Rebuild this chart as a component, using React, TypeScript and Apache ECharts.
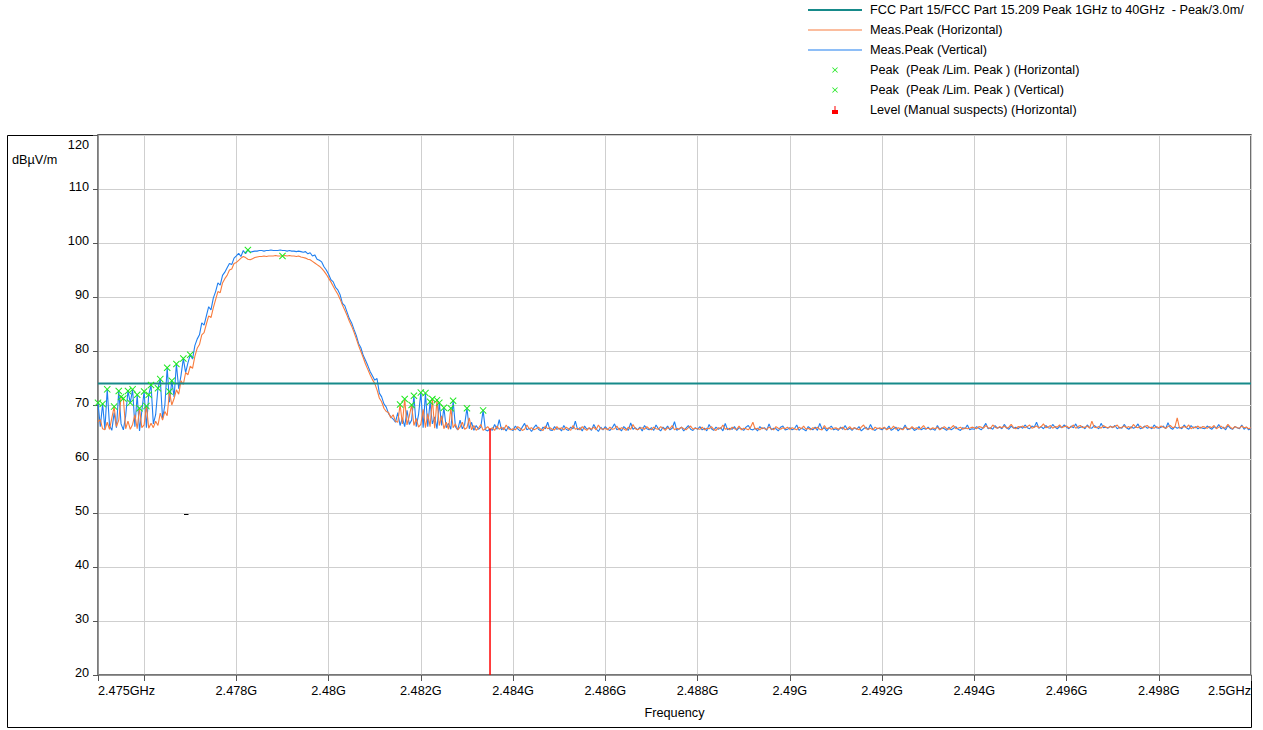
import React, { useEffect, useRef } from 'react';
import * as echarts from 'echarts';

const FONT = '"Liberation Sans", Arial, sans-serif';

// Sweep grid: 2.475 GHz .. 2.5 GHz, 50 kHz per sample (501 samples)
const SWEEP_START_GHZ = 2.475;
const SWEEP_STEP_GHZ = 0.00005;

// Meas.Peak (Vertical) in dBuV/m, one row per MHz (20 samples each)
const measV: number[] = [
  70.4, 66.0, 70.2, 65.5, 72.9, 66.2, 65.3, 68.6, 65.8, 72.6, 66.5, 65.4, 68.0, 72.6, 70.4, 72.9, 66.0, 71.9, 65.2, 68.9,
  72.5, 65.8, 71.9, 73.7, 66.5, 68.2, 73.1, 74.8, 67.5, 70.0, 76.9, 70.5, 74.5, 71.5, 77.6, 73.0, 75.5, 78.6, 76.0, 77.8,
  79.3, 78.5, 81.0, 82.2, 83.0, 85.2, 84.8, 86.5, 88.2, 87.6, 89.8, 91.0, 92.6, 92.2, 94.0, 94.6, 95.4, 96.2, 96.0, 97.2,
  97.6, 98.1, 97.5, 98.6, 98.0, 98.7, 98.3, 98.4, 98.5, 98.5, 98.6, 98.6, 98.5, 98.6, 98.6, 98.7, 98.6, 98.6, 98.6, 98.7,
  98.6, 98.6, 98.5, 98.6, 98.5, 98.5, 98.4, 98.5, 98.4, 98.3, 98.4, 98.0, 98.2, 97.6, 97.8, 97.0, 96.8, 96.5, 95.6, 95.0,
  94.2, 93.2, 92.8, 91.8, 91.3, 90.4, 88.8, 88.4, 87.2, 86.0, 85.2, 84.0, 82.9, 81.4, 80.6, 79.2, 78.3, 77.3, 76.2, 75.4,
  74.6, 74.9, 72.2, 71.5, 70.2, 69.6, 68.4, 67.8, 67.4, 66.8, 68.6, 66.2, 67.6, 66.0, 69.0, 66.4, 67.2, 71.7, 66.0, 68.2,
  72.3, 65.8, 72.2, 66.0, 70.6, 66.5, 67.8, 65.6, 70.4, 66.2, 69.5, 65.8, 66.6, 65.5, 70.8, 66.0, 65.4, 67.2, 65.6, 66.4,
  69.4, 65.6, 66.8, 65.3, 66.2, 65.5, 65.9, 69.0, 65.4, 65.2, 65.6, 65.3, 66.4, 65.5, 67.3, 65.4, 65.8, 65.2, 66.0, 65.5,
  65.3, 66.1, 65.6, 65.2, 65.9, 66.6, 65.4, 65.7, 65.1, 65.8, 66.3, 65.5, 65.2, 65.9, 65.6, 66.8, 65.4, 65.3, 66.0, 65.5,
  65.7, 65.2, 66.2, 65.5, 65.3, 65.9, 65.6, 67.0, 65.4, 65.8, 65.2, 66.1, 65.5, 65.7, 65.3, 66.4, 65.6, 65.1, 65.9, 65.4,
  66.0, 65.5, 65.3, 65.8, 66.5, 65.4, 65.7, 65.2, 66.0, 65.6, 65.3, 66.7, 65.5, 65.8, 65.4, 65.9, 65.2, 66.2, 65.6, 65.4,
  65.8, 65.3, 66.3, 65.6, 65.2, 65.9, 65.5, 66.1, 65.4, 65.7, 66.9, 65.3, 65.6, 65.9, 65.2, 65.7, 66.2, 65.5, 65.3, 65.8,
  65.5, 66.0, 65.4, 65.7, 65.2, 66.4, 65.6, 65.3, 65.9, 65.5, 65.8, 65.2, 66.6, 65.4, 65.7, 65.5, 66.0, 65.3, 65.8, 65.6,
  65.3, 65.9, 66.2, 65.5, 65.4, 65.7, 65.2, 66.0, 65.6, 65.8, 65.3, 66.5, 65.4, 65.7, 65.6, 65.2, 65.9, 66.1, 65.4, 65.5,
  65.8, 65.4, 65.6, 66.3, 65.3, 65.7, 65.5, 65.2, 66.0, 65.6, 65.4, 65.9, 65.3, 66.6, 65.5, 65.8, 65.2, 65.7, 66.1, 65.4,
  65.6, 65.3, 65.9, 65.5, 66.2, 65.4, 65.7, 65.3, 65.8, 65.5, 66.0, 65.2, 65.6, 65.9, 65.4, 66.4, 65.5, 65.3, 65.7, 65.6,
  65.4, 65.8, 65.5, 66.1, 65.3, 65.6, 65.9, 65.2, 65.7, 65.5, 66.3, 65.4, 65.6, 65.8, 65.3, 65.5, 66.0, 65.4, 65.7, 65.5,
  65.9, 65.4, 65.6, 65.3, 66.2, 65.5, 65.8, 65.6, 65.3, 65.9, 65.4, 65.7, 66.0, 65.5, 65.3, 65.8, 65.6, 66.3, 65.4, 65.6,
  65.5, 66.0, 65.7, 65.4, 65.9, 66.6, 65.6, 65.8, 65.5, 66.2, 65.7, 65.9, 65.6, 66.4, 65.8, 65.5, 66.1, 65.7, 65.9, 65.6,
  66.0, 65.7, 66.3, 65.8, 65.6, 66.1, 65.9, 66.8, 65.7, 66.0, 65.6, 66.2, 65.8, 65.7, 66.4, 65.9, 65.6, 66.0, 65.8, 66.3,
  65.9, 65.6, 66.1, 65.8, 66.5, 65.7, 65.9, 66.0, 65.6, 66.3, 65.8, 65.7, 66.2, 65.9, 65.6, 66.6, 65.8, 65.9, 65.7, 66.1,
  65.8, 66.2, 65.6, 65.9, 65.7, 66.4, 65.8, 65.5, 66.0, 65.7, 65.9, 66.5, 65.6, 65.8, 66.1, 65.7, 65.9, 65.6, 66.3, 65.8,
  65.7, 65.9, 66.1, 65.6, 66.7, 65.8, 65.5, 66.0, 65.7, 65.9, 65.6, 66.3, 65.8, 65.5, 66.2, 65.7, 66.0, 65.6, 65.9, 65.7,
  65.6, 66.1, 65.8, 65.5, 66.0, 65.7, 66.4, 65.6, 65.9, 65.4, 66.2, 65.7, 65.5, 66.0, 65.8, 65.6, 66.3, 65.5, 65.9, 65.4,
  65.7,
];

// Meas.Peak (Horizontal) in dBuV/m, one row per MHz (20 samples each)
const measH: number[] = [
  66.9, 67.3, 65.6, 65.4, 66.8, 65.5, 67.6, 69.7, 66.0, 67.2, 71.5, 71.2, 65.6, 67.0, 65.5, 66.4, 68.2, 65.6, 69.4, 65.8,
  66.3, 69.8, 65.7, 66.6, 65.8, 67.0, 66.2, 68.5, 67.2, 68.8, 68.0, 72.5, 70.0, 71.2, 72.8, 72.0, 74.5, 73.8, 76.0, 75.6,
  77.2, 76.8, 79.0, 80.5, 81.2, 83.0, 83.4, 85.0, 86.5, 86.2, 88.0, 89.5, 91.0, 90.8, 92.6, 93.4, 94.0, 95.0, 95.2, 96.2,
  96.4, 96.8, 97.2, 97.5, 97.3, 97.0, 96.9, 97.1, 97.3, 97.4, 97.5, 97.5, 97.6, 97.5, 97.6, 97.6, 97.6, 97.7, 97.6, 97.6,
  97.6, 97.7, 97.6, 97.7, 97.6, 97.6, 97.5, 97.6, 97.4, 97.3, 97.2, 97.0, 96.9, 96.6, 96.3, 96.0, 95.7, 95.3, 94.8, 94.2,
  93.5, 92.8, 92.0, 91.2, 90.5, 89.6, 88.5, 87.6, 86.6, 85.5, 84.6, 83.5, 82.3, 81.0, 79.9, 78.8, 77.6, 76.6, 75.6, 74.7,
  74.0, 72.8, 71.3, 70.6, 69.4, 68.8, 68.6, 67.6, 68.2, 67.0, 66.8, 70.1, 66.5, 71.1, 66.3, 68.0, 70.0, 66.2, 67.5, 65.9,
  66.4, 69.2, 65.8, 68.4, 66.0, 71.1, 65.7, 70.9, 66.2, 68.0, 65.6, 66.8, 65.5, 69.4, 65.8, 66.5, 65.4, 65.9, 66.8, 65.5,
  65.8, 67.6, 65.4, 66.2, 65.3, 65.7, 66.4, 65.3, 65.6, 66.0, 65.4, 65.8, 65.3, 66.1, 65.5, 65.9, 65.4, 66.3, 65.6, 65.4,
  65.6, 65.4, 66.0, 65.7, 65.3, 65.5, 66.3, 65.6, 65.8, 65.4, 65.6, 65.9, 65.5, 65.3, 66.1, 65.6, 65.8, 65.5, 65.4, 66.0,
  65.5, 65.8, 65.4, 65.9, 65.6, 65.3, 66.2, 65.5, 65.7, 65.4, 66.0, 65.6, 65.3, 65.8, 65.5, 65.9, 65.4, 66.3, 65.6, 65.5,
  65.7, 65.4, 65.9, 65.5, 65.6, 66.1, 65.4, 65.8, 65.6, 65.3, 65.9, 65.5, 66.4, 65.6, 65.4, 65.7, 65.8, 65.5, 66.0, 65.6,
  65.4, 65.9, 65.6, 65.5, 66.0, 65.7, 65.3, 65.8, 65.6, 66.2, 65.4, 65.7, 65.5, 65.9, 65.6, 65.4, 65.8, 66.1, 65.5, 65.7,
  65.6, 65.5, 65.9, 65.4, 65.7, 65.6, 66.0, 65.5, 65.3, 65.8, 65.6, 66.3, 65.5, 65.7, 65.4, 65.9, 65.6, 65.5, 66.1, 65.4,
  65.7, 65.6, 65.4, 65.9, 66.8, 65.5, 65.7, 65.4, 65.8, 65.6, 65.5, 65.9, 65.6, 65.4, 66.0, 65.7, 65.5, 65.8, 65.6, 65.9,
  65.5, 65.8, 65.6, 65.4, 65.9, 65.6, 66.1, 65.5, 65.7, 65.4, 65.8, 65.6, 65.9, 65.5, 65.4, 66.2, 65.6, 65.8, 65.5, 65.7,
  65.8, 65.5, 65.7, 65.9, 65.4, 65.6, 66.0, 65.5, 65.8, 65.6, 65.4, 65.9, 66.3, 65.6, 65.5, 65.7, 65.4, 65.9, 65.6, 65.8,
  65.6, 65.9, 65.4, 65.7, 65.6, 66.1, 65.5, 65.8, 65.6, 65.4, 65.9, 65.7, 65.5, 66.0, 65.6, 65.8, 65.5, 65.7, 66.2, 65.6,
  65.7, 65.5, 65.8, 65.6, 65.9, 65.4, 65.7, 66.0, 65.6, 65.5, 65.8, 66.2, 65.6, 65.7, 65.9, 65.5, 65.8, 65.6, 65.7, 65.9,
  65.8, 65.6, 66.0, 65.9, 65.7, 66.2, 65.8, 65.6, 66.3, 65.9, 65.7, 66.0, 65.8, 66.1, 65.7, 65.9, 66.4, 65.8, 65.6, 66.0,
  65.9, 66.1, 65.8, 66.0, 66.3, 65.7, 65.9, 66.1, 65.8, 66.0, 66.5, 65.8, 65.9, 66.2, 65.7, 66.0, 65.9, 66.3, 65.8, 66.0,
  66.1, 65.8, 65.9, 66.3, 65.7, 66.0, 66.2, 65.8, 65.9, 66.1, 65.7, 67.0, 65.9, 65.8, 66.0, 65.7, 66.2, 65.9, 65.8, 66.0,
  65.9, 66.0, 66.3, 65.7, 65.9, 66.1, 65.8, 66.0, 65.7, 66.4, 65.9, 65.8, 66.1, 65.7, 66.0, 66.2, 65.8, 65.9, 65.7, 66.0,
  65.8, 66.1, 65.9, 65.7, 66.0, 66.2, 65.8, 65.9, 67.6, 65.7, 65.9, 66.0, 65.8, 66.3, 65.6, 65.9, 65.8, 66.1, 65.7, 66.0,
  65.9, 65.7, 66.0, 65.8, 66.2, 65.6, 65.9, 66.1, 65.7, 65.8, 66.4, 65.9, 65.6, 66.0, 65.8, 65.7, 66.1, 65.8, 65.9, 65.6,
  65.8,
];

// Peak markers (GHz, dBuV/m)
const peakHFreq = [2.47535, 2.4755, 2.47555, 2.4759, 2.47605, 2.47655, 2.479, 2.48155, 2.48165, 2.4818, 2.48225, 2.48235, 2.48265];
const peakHLevel = [69.7, 71.5, 71.2, 69.4, 69.8, 72.5, 97.6, 70.1, 71.1, 70.0, 71.1, 70.9, 69.4];
const peakVFreq = [2.475, 2.4751, 2.4752, 2.47545, 2.47565, 2.4757, 2.47575, 2.47585, 2.476, 2.4761, 2.47615, 2.4763, 2.47635, 2.4765, 2.4766, 2.4767, 2.47685, 2.477, 2.47825, 2.48185, 2.482, 2.4821, 2.4822, 2.4824, 2.4825, 2.4827, 2.483, 2.48335];
const peakVLevel = [70.4, 70.2, 72.9, 72.6, 72.6, 70.4, 72.9, 71.9, 72.5, 71.9, 73.7, 73.1, 74.8, 76.9, 74.5, 77.6, 78.6, 79.3, 98.7, 71.7, 72.3, 72.2, 70.6, 70.4, 69.5, 70.8, 69.4, 69.0];

// Limit line and manual suspect level
const limitFreq = [2.475, 2.5];
const limitLevel = [74, 74];
const suspectFreq = 2.4835;
const suspectLevel = 65.6;
const yFloor = 20;

// Axis ticks
const xTickValues = [2.475, 2.476, 2.478, 2.48, 2.482, 2.484, 2.486, 2.488, 2.49, 2.492, 2.494, 2.496, 2.498, 2.5];
const xLabelValues = [2.475, 2.478, 2.48, 2.482, 2.484, 2.486, 2.488, 2.49, 2.492, 2.494, 2.496, 2.498, 2.5];

const NAME_LIMIT = 'FCC Part 15/FCC Part 15.209 Peak 1GHz to 40GHz  - Peak/3.0m/';
const NAME_H = 'Meas.Peak (Horizontal)';
const NAME_V = 'Meas.Peak (Vertical)';
const NAME_PH = 'Peak  (Peak /Lim. Peak ) (Horizontal)';
const NAME_PV = 'Peak  (Peak /Lim. Peak ) (Vertical)';
const NAME_LVL = 'Level (Manual suspects) (Horizontal)';

const C_TEAL = '#168a8a';
const C_ORANGE = '#f87c3e';
const C_BLUE = '#1f7ff0';
const C_GREEN = '#1ee81e';
const C_RED = '#ff0000';

const X_SYMBOL = 'path://M0,1L1,0L5,4L9,0L10,1L6,5L10,9L9,10L5,6L1,10L0,9L4,5Z';
const X_LEGEND = 'path://M0,0M14,14M2,3L3,2L7,6L11,2L12,3L8,7L12,11L11,12L7,8L3,12L2,11L6,7Z';
const LVL_LEGEND = 'path://M2.5,0H3.5V4H6V8H0V4H2.5Z';
const LINE2_LEGEND = 'path://M0,0M54,8M0,3H54V5H0Z';
const LINE1_LEGEND = 'path://M0,0M54,8M0,3.5H54V4.5H0Z';

const toSweep = (vals: number[]) => vals.map((v, i) => [SWEEP_START_GHZ + i * SWEEP_STEP_GHZ, v]);
const zip = (xs: number[], ys: number[]) => xs.map((x, i) => [x, ys[i]]);

function buildOption(): any {
  const fs = 12.7;
  return {
    animation: false,
    backgroundColor: '#ffffff',
    textStyle: { fontFamily: FONT },
    grid: {
      left: 98,
      top: 135,
      width: 1153,
      height: 540,
      show: true,
      borderColor: '#222',
      borderWidth: 1.3,
      containLabel: false,
    },
    legend: {
      orient: 'vertical',
      left: 808,
      top: 3,
      padding: 0,
      itemWidth: 54,
      itemHeight: 8,
      itemGap: 6,
      selectedMode: false,
      textStyle: { fontSize: fs, color: '#000', fontFamily: FONT, lineHeight: 14, padding: [0, 0, 0, 3] },
      data: [
        { name: NAME_LIMIT, icon: LINE2_LEGEND },
        { name: NAME_H, icon: LINE1_LEGEND },
        { name: NAME_V, icon: LINE1_LEGEND },
        { name: NAME_PH, icon: X_LEGEND },
        { name: NAME_PV, icon: X_LEGEND },
        { name: NAME_LVL, icon: LVL_LEGEND },
      ],
    },
    xAxis: {
      type: 'value',
      min: 2.475,
      max: 2.5,
      name: 'Frequency',
      nameLocation: 'middle',
      nameGap: 31,
      nameTextStyle: { fontSize: fs, color: '#000', fontFamily: FONT },
      axisLine: { show: true, onZero: false, lineStyle: { color: '#808080', width: 1.5 } },
      axisTick: { show: true, length: 6, customValues: xTickValues, lineStyle: { color: '#555', width: 1 } },
      axisLabel: {
        customValues: xLabelValues,
        margin: 9,
        fontSize: fs,
        color: '#000',
        fontFamily: FONT,
        alignMinLabel: 'left',
        alignMaxLabel: 'right',
        formatter: (v: number) => {
          if (v === 2.475) return '2.475GHz';
          if (v === 2.5) return '2.5GHz';
          return `${v}G`;
        },
      },
      splitLine: { show: true, lineStyle: { color: '#cfcfcf', width: 1 } },
    },
    yAxis: {
      type: 'value',
      min: 20,
      max: 120,
      interval: 10,
      axisLine: { show: true, lineStyle: { color: '#808080', width: 1.5 } },
      axisTick: { show: true, length: 5, lineStyle: { color: '#555', width: 1 } },
      axisLabel: {
        margin: 9,
        fontSize: fs,
        color: '#000',
        fontFamily: FONT,
        formatter: (v: number) => (v === 120 ? '{top|120}' : `{n|${v}}`),
        rich: {
          top: { fontSize: fs, fontFamily: FONT, color: '#000', padding: [19, 0, 0, 0] },
          n: { fontSize: fs, fontFamily: FONT, color: '#000', padding: [0, 0, 4, 0] },
        },
      },
      splitLine: { show: true, lineStyle: { color: '#cfcfcf', width: 1 } },
    },
    graphic: [
      {
        type: 'rect',
        silent: true,
        z: -1,
        shape: { x: 7.5, y: 135.5, width: 1244, height: 592 },
        style: { fill: 'none', stroke: '#000', lineWidth: 1 },
      },
      {
        type: 'text',
        left: 12,
        top: 153,
        style: { text: 'dBµV/m', fontSize: fs, fill: '#000', fontFamily: FONT },
      },
      {
        type: 'line',
        silent: true,
        shape: { x1: 184, y1: 514.5, x2: 188.5, y2: 514.5 },
        style: { stroke: '#000', lineWidth: 1 },
      },
    ],
    series: [
      {
        name: NAME_V,
        type: 'line',
        data: toSweep(measV),
        symbol: 'none',
        showSymbol: false,
        lineStyle: { color: C_BLUE, width: 1.1 },
        itemStyle: { color: C_BLUE },
        z: 2,
      },
      {
        name: NAME_H,
        type: 'line',
        data: toSweep(measH),
        symbol: 'none',
        showSymbol: false,
        lineStyle: { color: C_ORANGE, width: 1.1 },
        itemStyle: { color: C_ORANGE },
        z: 3,
      },
      {
        name: NAME_LIMIT,
        type: 'line',
        data: zip(limitFreq, limitLevel),
        symbol: 'none',
        showSymbol: false,
        lineStyle: { color: C_TEAL, width: 2 },
        itemStyle: { color: C_TEAL },
        z: 4,
      },
      {
        name: NAME_LVL,
        type: 'line',
        data: [[suspectFreq, yFloor], [suspectFreq, suspectLevel]],
        symbol: 'none',
        showSymbol: false,
        lineStyle: { color: C_RED, width: 1.5 },
        itemStyle: { color: C_RED },
        z: 5,
      },
      {
        name: NAME_PH,
        type: 'scatter',
        data: zip(peakHFreq, peakHLevel),
        symbol: X_SYMBOL,
        symbolSize: 7,
        itemStyle: { color: C_GREEN, opacity: 1 },
        z: 6,
      },
      {
        name: NAME_PV,
        type: 'scatter',
        data: zip(peakVFreq, peakVLevel),
        symbol: X_SYMBOL,
        symbolSize: 7,
        itemStyle: { color: C_GREEN, opacity: 1 },
        z: 6,
      },
    ],
  };
}

export default function App() {
  const ref = useRef<HTMLDivElement>(null);
  useEffect(() => {
    if (!ref.current) return;
    const chart = echarts.init(ref.current, null, { renderer: 'svg' });
    chart.setOption(buildOption());
    return () => chart.dispose();
  }, []);
  return (
    <div
      ref={ref}
      style={{ position: 'fixed', left: 0, top: 0, width: 1263, height: 730, background: '#fff' }}
    />
  );
}
